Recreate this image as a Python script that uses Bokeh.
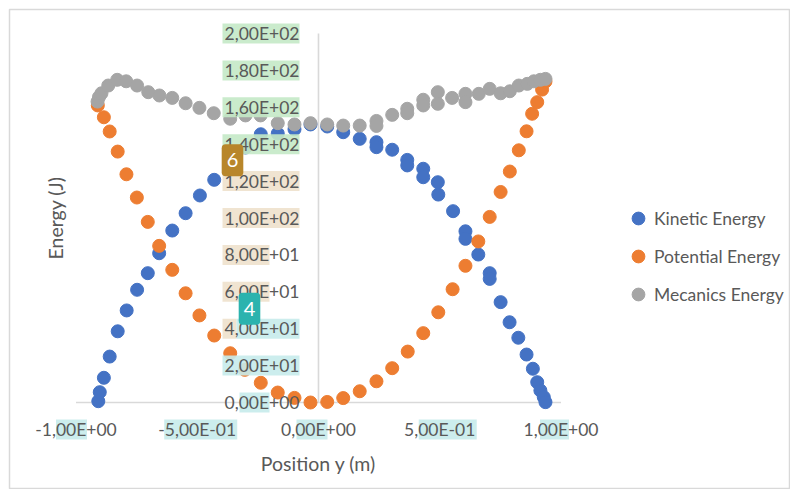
from bokeh.plotting import figure
from bokeh.models import Legend, LegendItem
from bokeh.core.properties import value
from bokeh.embed import file_html
from bokeh.resources import INLINE

# ---------------- data ----------------
ke_x = [-0.908, -0.902, -0.885, -0.861, -0.828, -0.791, -0.748, -0.704, -0.657, -0.603,
        -0.548, -0.489, -0.430, -0.367, -0.301, -0.238, -0.168, -0.099, -0.033, 0.036,
        0.102, 0.170, 0.239, 0.239, 0.304, 0.366, 0.366, 0.432, 0.432, 0.492,
        0.494, 0.555, 0.606, 0.606, 0.659, 0.706, 0.706, 0.751, 0.788, 0.824,
        0.858, 0.884, 0.902, 0.915, 0.929, 0.936]
ke_y = [0.7, 5.6, 13.4, 24.9, 38.6, 49.9, 61.1, 70.1, 80.9, 93.2,
        102.6, 112.2, 120.7, 129.5, 138.2, 145.4, 145.8, 148.1, 150.7, 149.6,
        146.5, 142.9, 141.1, 138.4, 137.0, 131.5, 128.5, 126.7, 122.1, 119.4,
        112.7, 103.7, 92.8, 88.7, 80.2, 70.1, 67.0, 54.4, 43.5, 35.1,
        26.0, 18.3, 11.0, 6.5, 2.9, 0.2]

pe_x = [-0.910, -0.885, -0.861, -0.828, -0.792, -0.749, -0.704, -0.657, -0.603, -0.548,
        -0.491, -0.430, -0.364, -0.304, -0.238, -0.168, -0.099, -0.033, 0.036, 0.102,
        0.170, 0.239, 0.304, 0.368, 0.432, 0.494, 0.553, 0.606, 0.659, 0.706,
        0.751, 0.789, 0.826, 0.858, 0.881, 0.902, 0.922, 0.936]
pe_y = [161.0, 154.6, 146.9, 136.0, 123.7, 111.1, 97.9, 84.9, 71.9, 59.2,
        47.2, 36.3, 26.7, 17.7, 10.7, 5.4, 2.5, 0.0, 0.3, 2.4,
        6.1, 11.5, 18.6, 27.6, 37.6, 48.9, 61.4, 74.1, 87.3, 100.6,
        114.1, 125.2, 136.7, 147.0, 156.5, 162.8, 169.6, 174.0]

me_x = [-0.911, -0.905, -0.895, -0.867, -0.830, -0.793, -0.748, -0.702, -0.656, -0.603,
        -0.548, -0.491, -0.432, -0.364, -0.301, -0.239, -0.168, -0.099, -0.033, 0.036,
        0.102, 0.170, 0.239, 0.239, 0.304, 0.366, 0.366, 0.432, 0.432, 0.492,
        0.492, 0.551, 0.606, 0.606, 0.661, 0.706, 0.751, 0.789, 0.826, 0.861,
        0.888, 0.915, 0.936]
me_y = [163.1, 165.6, 167.6, 171.8, 174.9, 174.1, 171.8, 168.2, 166.4, 165.1,
        162.2, 159.7, 156.8, 153.8, 155.6, 155.6, 151.4, 150.7, 151.4, 150.7,
        150.1, 150.1, 152.6, 149.9, 155.9, 159.2, 156.8, 164.1, 161.0, 168.2,
        161.9, 165.1, 167.3, 162.8, 167.3, 170.0, 167.6, 168.7, 171.8, 172.7,
        174.1, 174.9, 175.4]

series_names = ["Kinetic Energy", "Potential Energy", "Mecanics Energy"]
series_colors = ["#4472C4", "#ED7D31", "#A5A5A5"]

y_ticks = [0, 20, 40, 60, 80, 100, 120, 140, 160, 180, 200]
y_tick_labels = ["0,00E+00", "2,00E+01", "4,00E+01", "6,00E+01", "8,00E+01", "1,00E+02",
                 "1,20E+02", "1,40E+02", "1,60E+02", "1,80E+02", "2,00E+02"]
x_ticks = [-1.0, -0.5, 0.0, 0.5, 1.0]
x_tick_labels = ["-1,00E+00", "-5,00E-01", "0,00E+00", "5,00E-01", "1,00E+00"]
x_title = "Position y (m)"
y_title = "Energy (J)"

# ---------------- figure ----------------
W, H = 790, 489
BL, BT = 9, 9                      # white strip before the chart border
FW, FH = W - BL, H - BT            # frame size
X0, X1 = -1.2742, 1.9464
Y0, Y1 = -47.15, 213.01
sx = FW / (X1 - X0)
sy = FH / (Y1 - Y0)

p = figure(width=W, height=H, x_range=(X0, X1), y_range=(Y0, Y1),
           output_backend="svg", toolbar_location=None,
           x_axis_location=None, y_axis_location=None,
           min_border_left=BL, min_border_top=BT, min_border_right=0, min_border_bottom=0)
p.grid.visible = False
p.outline_line_color = "#d9d9d9"
p.outline_line_width = 1.5
p.background_fill_color = "white"
p.border_fill_color = "white"

FONT_NAME = "Lato"
FONT = value(FONT_NAME)
TXT = "#595959"

# axis lines crossing at zero
p.segment(x0=[x_ticks[0], 0], y0=[0, y_ticks[0]], x1=[x_ticks[-1], 0], y1=[0, y_ticks[-1]],
          line_color="#d9d9d9", line_width=1.6)

# data series
renderers = []
for xs, ys, col in [(ke_x, ke_y, series_colors[0]), (pe_x, pe_y, series_colors[1]),
                    (me_x, me_y, series_colors[2])]:
    r = p.scatter(xs, ys, size=13, fill_color=col, line_color=col)
    renderers.append(r)

# highlight marks (annotation overlay), offsets in screen px from axis / tick
GREEN, TAN, CYAN = "#c4e9c6", "#eee1cc", "#c6ebeb"
hl_y = [(200, -96, -19, GREEN), (180, -96, -19, GREEN), (160, -96, -19, GREEN),
        (140, -96, -19, GREEN), (120, -96, -19, TAN), (100, -96, -19, TAN),
        (80, -96, -49, TAN), (60, -96, -49, TAN), (40, -96, -82, TAN),
        (40, -82, -19, CYAN), (20, -96, -19, CYAN), (0, -79, -49, CYAN)]
hl_x = [(-1.0, -20, 11), (-0.5, -33, 40), (0.0, -22, 9), (0.5, -21, 37), (1.0, -21, 8)]
ql, qr, qb, qt, qc = [], [], [], [], []
for v, l, r, c in hl_y:
    ql.append(l / sx); qr.append(r / sx)
    qb.append(v - 10 / sy); qt.append(v + 10 / sy); qc.append(c)
for xv, l, r in hl_x:
    ql.append(xv + l / sx); qr.append(xv + r / sx)
    qb.append(-37 / sy); qt.append(-17 / sy); qc.append(CYAN)
p.quad(left=ql, right=qr, bottom=qb, top=qt, fill_color=qc, line_color=None, fill_alpha=0.9)

# tick labels
p.text(x=[0] * len(y_ticks), y=y_ticks, text=y_tick_labels, x_offset=-19,
       text_align="right", text_baseline="middle", text_font=FONT,
       text_font_size="17.5px", text_color=TXT)
p.text(x=x_ticks, y=[0] * len(x_ticks), text=x_tick_labels, y_offset=27,
       text_align="center", text_baseline="middle", text_font=FONT,
       text_font_size="17.5px", text_color=TXT)

# axis titles
p.text(x=[0], y=[0], text=[x_title], y_offset=61, text_align="center",
       text_baseline="middle", text_font=FONT, text_font_size="19.5px", text_color=TXT)
p.text(x=[0], y=[100], text=[y_title], x_offset=-263, angle=1.5708, text_align="center",
       text_baseline="middle", text_font=FONT, text_font_size="19.5px", text_color=TXT)

# numbered badges (annotation overlay)
p.text(x=[0], y=[140], text=["6"], x_offset=-86, y_offset=16, text_align="center",
       text_baseline="middle", text_font=FONT, text_font_size="20px", text_color="white",
       background_fill_color="#B8862B", padding=(5, 9), border_radius=4)
p.text(x=[0], y=[40], text=["4"], x_offset=-69, y_offset=-20, text_align="center",
       text_baseline="middle", text_font=FONT, text_font_size="20px", text_color="white",
       background_fill_color="#2BB3AE", padding=(5, 9), border_radius=4)

legend = Legend(items=[LegendItem(label=n, renderers=[r]) for n, r in zip(series_names, renderers)],
                location=(613, 179), orientation="vertical",
                glyph_width=32, glyph_height=32, label_height=32, spacing=6,
                label_standoff=0, padding=0, margin=0,
                border_line_color=None, background_fill_alpha=0,
                label_text_font=FONT_NAME, label_text_font_size="17.5px",
                label_text_color=TXT, label_text_baseline="middle")
p.add_layout(legend)

open("out.html", "w").write(file_html(p, INLINE))
